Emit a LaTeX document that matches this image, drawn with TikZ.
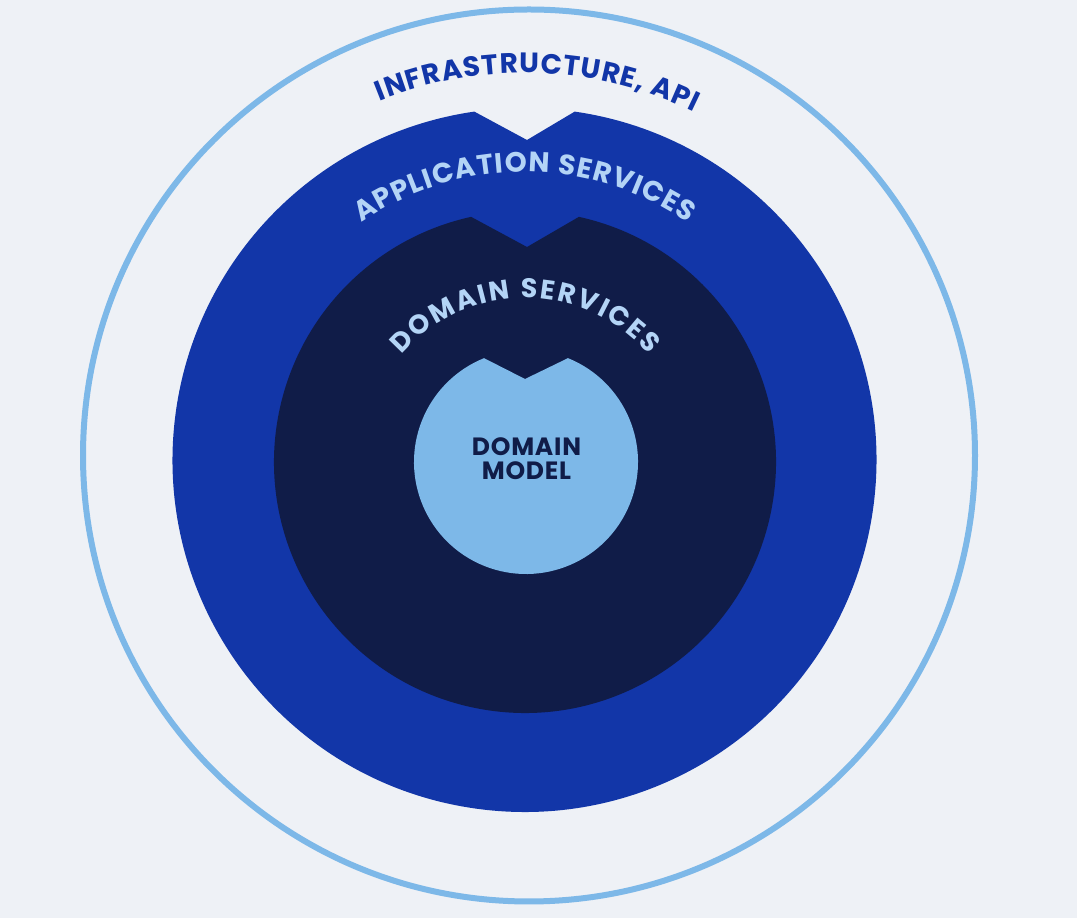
\documentclass[tikz,border=0pt]{standalone}
\usepackage{fontspec}
\setmainfont{Poppins}
\usetikzlibrary{decorations.text}

\definecolor{fondo}{HTML}{EEF1F6}
\definecolor{celeste}{HTML}{7DB8E8}
\definecolor{azul}{HTML}{1236A8}
\definecolor{marino}{HTML}{101C48}
\definecolor{claro}{HTML}{B3D4F6}

\tikzset{
  arco/.style n args={3}{decorate, decoration={text along path,
      text={|\bfseries\fontsize{#1}{#1}\selectfont|#2},
      text align=fit to path, text color=#3}}
}

\begin{document}
\begin{tikzpicture}[x=1pt,y=1pt]
            % Fondo
            \fill[fondo] (0,0) rectangle (1077,918);
            \useasboundingbox (0,0) rectangle (1077,918);

            % Centros y vertices de las muescas
            \coordinate (cAnillo) at (529,462.5);
            \coordinate (cApp) at (524.5,458);
            \coordinate (cDom) at (525,456);
            \coordinate (cMod) at (526,456);
            \coordinate (vApp) at (527,778);
            \coordinate (vDom) at (527,671);
            \coordinate (vMod) at (525,539);

            % Anillo exterior
            \draw[celeste, line width=6] (cAnillo) circle (446);

            % Discos con muesca
            \fill[azul] (cApp) ++(81.8:352) arc[start angle=81.8, end angle=-261.8, radius=352] -- (vApp) -- cycle;
            \fill[marino] (cDom) ++(77.6:251) arc[start angle=77.6, end angle=-257.6, radius=251] -- (vDom) -- cycle;
            \fill[celeste] (cMod) ++(68:112) arc[start angle=68, end angle=-248, radius=112] -- (vMod) -- cycle;

            % Textos en arco
            \path[arco={28}{INFRASTRUCTURE, API}{azul}] (cApp) ++(112:387) arc[start angle=112, end angle=64, radius=387];
            \path[arco={28}{APPLICATION SERVICES}{claro}] (cApp) ++(124.5:288) arc[start angle=124.5, end angle=55.5, radius=288];
            \path[arco={27}{DOMAIN SERVICES}{claro}] (cDom) ++(139:164) arc[start angle=139, end angle=41, radius=164];

            % Modelo de dominio
            \node[font=\bfseries\fontsize{25}{24}\selectfont\addfontfeature{LetterSpace=3}, text=marino, align=center] (modelo) at (526.5,459) {DOMAIN\\MODEL};
        \end{tikzpicture}
\end{document}
